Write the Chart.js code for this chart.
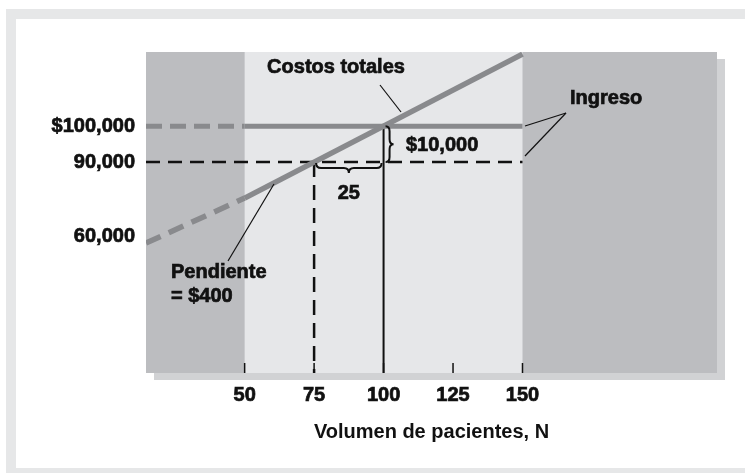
<!DOCTYPE html>
<html lang="es">
  <head>
    <meta charset="UTF-8" />
    <title>Punto de equilibrio</title>
    <style>
      body { margin: 0; background: #fff; }
      canvas { display: block; }
    </style>
  </head>
  <body>
    <canvas id="chart" width="745" height="473"></canvas>

    <script src="https://cdn.jsdelivr.net/npm/chart.js@4.4.1/dist/chart.umd.min.js"></script>
    <script>
      // data
      const xMin = 14.5;
      const xMax = 220;
      const yMin = 31400;
      const yMax = 120600;

      const xTicks = [50, 75, 100, 125, 150];
      const yTickValues = [69200, 90000, 100000];
      const yTickLabels = ["60,000", "90,000", "$100,000"];

      const costN = [14.5, 50, 150];
      const costValues = [67500, 80000, 120000];
      const revenueN = [14.5, 50, 150];
      const revenueValues = [100000, 100000, 100000];
      const refN = [14.5, 150];
      const refValues = [90000, 90000];
      const dropN75 = [75, 75];
      const dropValues75 = [90000, yMin];
      const dropN100 = [100, 100];
      const dropValues100 = [100000, yMin];
      const relevantRange = [50, 150];

      const GRAY_LINE = "#898a8d";
      const INK = "#111";
      const FAMILY = "'Liberation Sans', Arial, sans-serif";
      const FONT = "bold 20px " + FAMILY;

      const pts = (xs, ys) => xs.map((x, i) => ({ x: x, y: ys[i] }));
      const firstDashed = (dash) => ({
        borderDash: (ctx) => (ctx.p0DataIndex === 0 ? dash : undefined),
      });

      const backdrop = {
        id: "backdrop",
        beforeDraw(chart) {
          const { ctx, chartArea: a, scales } = chart;
          ctx.save();
          // outer frame
          ctx.fillStyle = "#e6e7e8";
          ctx.fillRect(6, 9, 10, 464);
          ctx.fillRect(6, 9, 739, 10);
          ctx.fillRect(6, 468, 739, 5);
          // shadow
          ctx.fillStyle = "#d1d2d4";
          ctx.fillRect(a.left + 8, a.top + 7, a.right - a.left, a.bottom - a.top);
          // plot
          ctx.fillStyle = "#bcbdc0";
          ctx.fillRect(a.left, a.top, a.right - a.left, a.bottom - a.top);
          const x1 = scales.x.getPixelForValue(relevantRange[0]);
          const x2 = scales.x.getPixelForValue(relevantRange[1]);
          ctx.fillStyle = "#e6e7e9";
          ctx.fillRect(x1, a.top, x2 - x1, a.bottom - a.top);
          ctx.restore();
        },
      };

      function braceH(ctx, x1, x2, y, d) {
        const mid = (x1 + x2) / 2;
        const r = 5;
        ctx.beginPath();
        ctx.moveTo(x1, y);
        ctx.quadraticCurveTo(x1, y + d / 2, x1 + r, y + d / 2);
        ctx.lineTo(mid - r, y + d / 2);
        ctx.quadraticCurveTo(mid, y + d / 2, mid, y + d);
        ctx.quadraticCurveTo(mid, y + d / 2, mid + r, y + d / 2);
        ctx.lineTo(x2 - r, y + d / 2);
        ctx.quadraticCurveTo(x2, y + d / 2, x2, y);
        ctx.stroke();
      }

      function braceV(ctx, y1, y2, x, d) {
        const mid = (y1 + y2) / 2;
        const r = 5;
        ctx.beginPath();
        ctx.moveTo(x, y1);
        ctx.quadraticCurveTo(x + d / 2, y1, x + d / 2, y1 + r);
        ctx.lineTo(x + d / 2, mid - r);
        ctx.quadraticCurveTo(x + d / 2, mid, x + d, mid);
        ctx.quadraticCurveTo(x + d / 2, mid, x + d / 2, mid + r);
        ctx.lineTo(x + d / 2, y2 - r);
        ctx.quadraticCurveTo(x + d / 2, y2, x, y2);
        ctx.stroke();
      }

      const notes = {
        id: "notes",
        afterDatasetsDraw(chart) {
          const { ctx, chartArea: a, scales } = chart;
          const X = (v) => scales.x.getPixelForValue(v);
          const Y = (v) => scales.y.getPixelForValue(v);
          ctx.save();
          ctx.strokeStyle = INK;

          // tick marks along the bottom
          ctx.lineWidth = 1.5;
          xTicks.forEach((t) => {
            ctx.beginPath();
            ctx.moveTo(X(t), a.bottom - 10);
            ctx.lineTo(X(t), a.bottom);
            ctx.stroke();
          });

          // braces
          ctx.lineWidth = 2;
          braceH(ctx, X(75) + 2, X(100) - 2, Y(90000) + 1, 10);
          braceV(ctx, Y(100000), Y(90000), X(100) + 2, 8);

          // leader lines
          ctx.lineWidth = 1.2;
          const lead = (x1, y1, x2, y2) => {
            ctx.beginPath();
            ctx.moveTo(x1, y1);
            ctx.lineTo(x2, y2);
            ctx.stroke();
          };
          lead(380, 85, 401, 112);
          lead(566, 113, 525, 126);
          lead(566, 113, 525, 156);
          lead(228, 261, 274, 184);

          // labels
          ctx.fillStyle = INK;
          ctx.font = FONT;
          ctx.lineWidth = 0.7;
          ctx.textBaseline = "middle";
          const label = (t, x, y, align) => {
            ctx.textAlign = align;
            ctx.fillText(t, x, y);
            ctx.strokeText(t, x, y);
          };
          label("Costos totales", 336, 67, "center");
          label("25", (X(75) + X(100)) / 2, 193, "center");
          label("$10,000", 406, 145, "left");
          label("Ingreso", 570, 98, "left");
          label("Pendiente", 171, 272, "left");
          label("= $400", 171, 296, "left");
          ctx.restore();
        },
      };

      const tickFont = { family: FAMILY, size: 20, weight: "bold" };

      const ctx = document.getElementById("chart").getContext("2d");
      const chart = new Chart(ctx, {
        type: "line",
        data: {
          datasets: [
            {
              label: "Costos totales",
              data: pts(costN, costValues),
              borderColor: GRAY_LINE,
              borderWidth: 5.5,
              segment: firstDashed([16, 9]),
            },
            {
              label: "Ingreso",
              data: pts(revenueN, revenueValues),
              borderColor: GRAY_LINE,
              borderWidth: 5,
              segment: firstDashed([16, 8]),
            },
            {
              label: "90,000",
              data: pts(refN, refValues),
              borderColor: INK,
              borderWidth: 2.5,
              borderDash: [14, 8],
            },
            {
              label: "N = 75",
              data: pts(dropN75, dropValues75),
              borderColor: INK,
              borderWidth: 2.5,
              borderDash: [15, 8],
            },
            {
              label: "N = 100",
              data: pts(dropN100, dropValues100),
              borderColor: INK,
              borderWidth: 2,
            },
          ],
        },
        options: {
          responsive: false,
          animation: false,
          elements: { point: { radius: 0 }, line: { tension: 0 } },
          layout: { padding: { left: 0, top: 52, right: 28, bottom: 0 } },
          plugins: {
            legend: { display: false },
            tooltip: { enabled: false },
          },
          scales: {
            x: {
              type: "linear",
              min: xMin,
              max: xMax,
              grid: { display: false, drawTicks: false },
              border: { display: false },
              afterBuildTicks: (s) => {
                s.ticks = xTicks.map((v) => ({ value: v }));
              },
              afterFit: (s) => {
                s.height = 100;
              },
              ticks: {
                padding: 10,
                color: INK,
                font: tickFont,
                textStrokeColor: INK,
                textStrokeWidth: 0.7,
                maxRotation: 0,
                autoSkip: false,
              },
              title: {
                display: true,
                text: "Volumen de pacientes, N",
                color: INK,
                font: tickFont,
                padding: { top: 0, bottom: 29 },
              },
            },
            y: {
              type: "linear",
              min: yMin,
              max: yMax,
              grid: { display: false, drawTicks: false },
              border: { display: false },
              afterBuildTicks: (s) => {
                s.ticks = yTickValues.map((v) => ({ value: v }));
              },
              afterFit: (s) => {
                s.width = 146;
              },
              ticks: {
                padding: 11,
                color: INK,
                autoSkip: false,
                font: tickFont,
                textStrokeColor: INK,
                textStrokeWidth: 0.7,
                callback: (v, i) => yTickLabels[i],
              },
            },
          },
        },
        plugins: [backdrop, notes],
      });
    </script>
  </body>
</html>
